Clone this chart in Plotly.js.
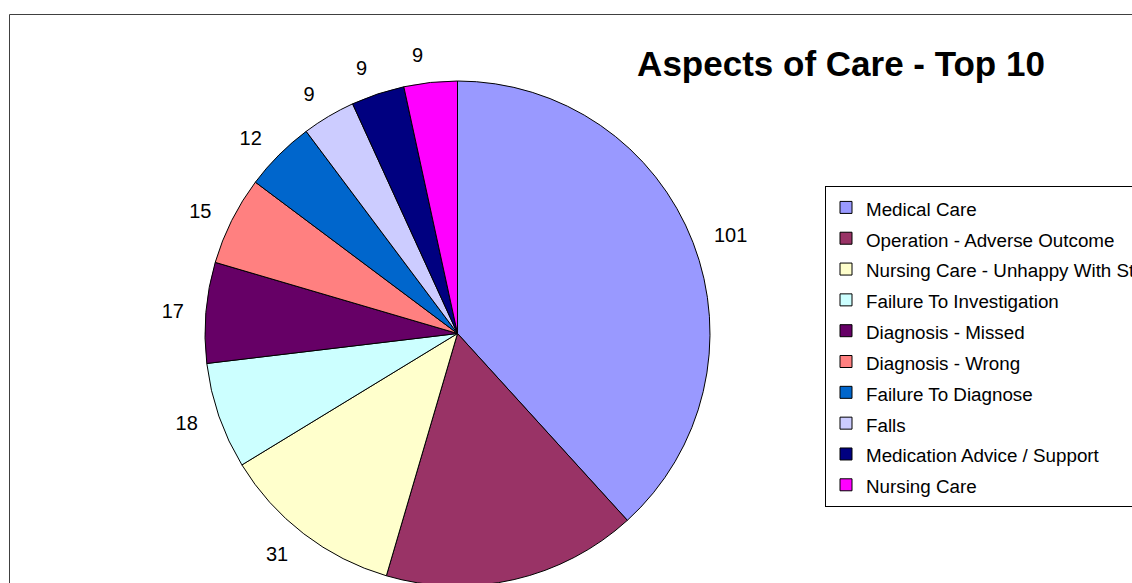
<!DOCTYPE html>
<html>
<head>
<meta charset="utf-8">
<script src="https://cdn.plot.ly/plotly-3.0.1.min.js"></script>
<style>
html, body { margin: 0; padding: 0; overflow: hidden; background: #fff; }
#chart { width: 1132px; height: 610px; }
</style>
</head>
<body>
<div id="chart"></div>
<script>
// Data
var categories = [
  "Medical Care",
  "Operation - Adverse Outcome",
  "Nursing Care - Unhappy With Standard",
  "Failure To Investigation",
  "Diagnosis - Missed",
  "Diagnosis - Wrong",
  "Failure To Diagnose",
  "Falls",
  "Medication Advice / Support",
  "Nursing Care"
];
var counts = [101, 43, 31, 18, 17, 15, 12, 9, 9, 9];
var sliceColors = [
  "#9999FF", "#993366", "#FFFFCC", "#CCFFFF", "#660066",
  "#FF8080", "#0066CC", "#CCCCFF", "#000080", "#FF00FF"
];
var chartTitle = "Aspects of Care - Top 10";

var W = 1132, H = 610;
var FONT = "Liberation Sans, Arial, Helvetica, sans-serif";

// pie geometry (page pixels)
var CX = 457.5, CY = 333.5, R = 252.5, R_TEXT = 269;
function pieDomain(r) {
  return { x: [(CX - r) / W, (CX + r) / W], y: [1 - (CY + r) / H, 1 - (CY - r) / H] };
}

// legend labels: same text, drawn at 18.8px inside a taller legend row
var legendLabels = categories.map(function (c) {
  return '<span style="font-size:18.8px">' + c + '</span>';
});

// visible pie (no text)
var pieTrace = {
  type: "pie",
  labels: legendLabels,
  values: counts,
  sort: false,
  direction: "clockwise",
  rotation: 0,
  marker: { colors: sliceColors, line: { color: "#000000", width: 1 } },
  textinfo: "none",
  hoverinfo: "label+value",
  domain: pieDomain(R)
};

// value labels: transparent copies of the pie, a little larger, labels split
// between two copies so that neighbouring labels are not shifted
function labelTrace(parity) {
  return {
    type: "pie",
    labels: legendLabels,
    values: counts,
    sort: false,
    direction: "clockwise",
    rotation: 0,
    showlegend: false,
    marker: { colors: counts.map(function () { return "rgba(0,0,0,0)"; }),
              line: { width: 0 } },
    textinfo: "value",
    textposition: counts.map(function (v, i) { return i % 2 === parity ? "outside" : "none"; }),
    outsidetextfont: { family: FONT, size: 20, color: "#000000" },
    hoverinfo: "skip",
    domain: pieDomain(R_TEXT)
  };
}

var layout = {
  width: W,
  height: H,
  margin: { l: 0, r: 0, t: 0, b: 0, autoexpand: false },
  paper_bgcolor: "#ffffff",
  font: { family: FONT, color: "#000000" },
  title: {
    text: "<b>" + chartTitle + "</b>",
    font: { family: FONT, size: 35, color: "#000000" },
    xref: "paper",
    x: 841 / W,
    xanchor: "center",
    yref: "container",
    y: 1 - 64 / H,
    yanchor: "middle"
  },
  showlegend: true,
  legend: {
    x: 825 / W,
    xanchor: "left",
    y: 1 - 186 / H,
    yanchor: "top",
    bgcolor: "#ffffff",
    bordercolor: "#000000",
    borderwidth: 1,
    font: { family: FONT, size: 21.4, color: "#000000" },
    itemclick: false,
    itemdoubleclick: false
  },
  shapes: [{
    type: "rect",
    xref: "paper", yref: "paper",
    x0: 9.5 / W, x1: 1.1,
    y0: -0.1, y1: 1 - 14.5 / H,
    line: { color: "#404040", width: 1 },
    fillcolor: "rgba(0,0,0,0)",
    layer: "below"
  }]
};

Plotly.newPlot("chart", [pieTrace, labelTrace(0), labelTrace(1)], layout,
  { displayModeBar: false, staticPlot: true });
</script>
</body>
</html>
